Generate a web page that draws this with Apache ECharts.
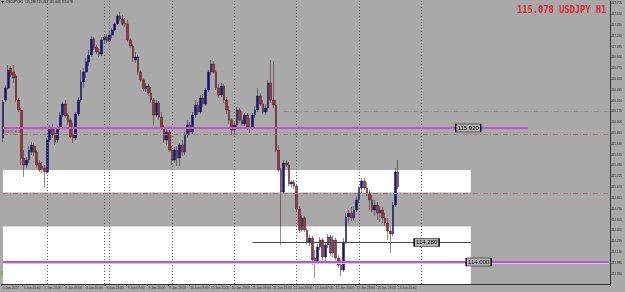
<!DOCTYPE html>
<html><head><meta charset="utf-8">
<script src="https://cdn.jsdelivr.net/npm/echarts@6/dist/echarts.min.js"></script>
<style>html,body{margin:0;padding:0;background:#a9a9a9}#c{width:625px;height:292px}</style>
</head><body><div id="c"></div>
<script>
// time-axis tick labels (one every 8 H1 bars)
const timeTicks = ["5 Jan 2017","5 Jan 15:00","5 Jan 23:00","6 Jan 07:00","6 Jan 15:00","6 Jan 23:00","9 Jan 07:00","9 Jan 15:00","9 Jan 23:00","10 Jan 07:00","10 Jan 15:00","10 Jan 23:00","11 Jan 07:00","11 Jan 15:00","11 Jan 23:00","12 Jan 07:00","12 Jan 15:00","12 Jan 23:00","13 Jan 07:00","13 Jan 15:00"];
// price-axis tick labels
const priceTicks = [117.705,117.550,117.395,117.240,117.085,116.930,116.775,116.620,116.465,116.310,116.155,116.000,115.845,115.690,115.535,115.380,115.225,115.070,114.915,114.760,114.605,114.450,114.295,114.140,113.985,113.830];
// USDJPY H1 candles
const opens = [115.776,116.321,116.493,116.779,116.722,116.665,116.321,116.178,115.489,115.389,115.461,115.575,115.662,115.575,115.418,115.375,115.346,115.289,115.748,115.920,115.848,115.748,115.920,116.106,116.264,116.106,116.034,115.820,115.776,116.120,116.321,116.579,116.722,116.865,116.966,117.195,117.080,117.009,116.980,117.181,117.224,117.166,117.252,117.324,117.410,117.525,117.482,117.424,117.410,117.181,117.095,116.894,116.937,116.722,116.608,116.479,116.522,116.421,116.321,116.106,116.278,116.077,115.920,115.748,115.862,115.604,115.461,115.604,115.489,115.676,115.575,115.820,115.963,115.862,116.106,116.249,116.149,116.350,116.264,116.464,116.722,116.837,116.722,116.493,116.393,116.522,116.321,116.178,116.034,115.891,115.963,116.178,116.034,115.977,116.106,115.934,115.920,116.106,116.178,116.378,116.264,116.149,116.206,116.565,116.321,116.249,115.604,115.318,115.002,115.418,115.389,115.117,115.146,115.088,114.759,114.458,114.630,114.458,114.286,114.343,114.057,114.000,114.214,114.315,114.071,114.243,114.358,114.128,114.315,114.057,113.956,113.885,114.286,114.644,114.702,114.630,114.745,114.888,115.060,115.161,115.060,114.974,114.888,114.745,114.816,114.702,114.745,114.630,114.558,114.443,114.401,114.816,115.289];
const closes = [116.292,116.493,116.751,116.679,116.637,116.321,116.178,115.489,115.389,115.461,115.604,115.676,115.575,115.389,115.318,115.332,115.289,115.748,115.920,115.820,115.719,115.920,116.106,116.264,116.092,116.005,115.791,115.776,116.120,116.321,116.579,116.722,116.865,116.966,117.195,117.066,117.009,116.980,117.181,117.224,117.166,117.252,117.324,117.410,117.525,117.482,117.410,117.410,117.181,117.095,116.923,116.937,116.722,116.608,116.479,116.522,116.421,116.321,116.106,116.278,116.077,115.920,115.748,115.862,115.604,115.461,115.604,115.489,115.676,115.575,115.820,115.963,115.862,116.106,116.249,116.149,116.350,116.264,116.464,116.722,116.837,116.722,116.493,116.393,116.522,116.321,116.178,116.034,115.891,115.963,116.178,116.034,115.977,116.106,115.934,115.920,116.106,116.178,116.378,116.264,116.149,116.206,116.565,116.321,116.249,115.604,115.318,115.002,115.418,115.389,115.117,115.146,115.088,114.759,114.458,114.630,114.458,114.286,114.343,114.028,114.000,114.214,114.315,114.071,114.243,114.358,114.128,114.315,114.057,113.956,113.885,114.286,114.644,114.702,114.630,114.745,114.888,115.060,115.161,115.060,114.974,114.888,114.745,114.816,114.702,114.745,114.630,114.558,114.443,114.401,114.816,115.289,115.078];
const highs = [116.321,116.536,116.822,116.808,116.822,116.694,116.350,116.206,115.604,115.504,115.662,115.719,115.705,115.604,115.461,115.432,115.389,115.776,115.963,115.977,115.920,115.948,116.149,116.292,116.321,116.135,116.063,115.991,116.149,116.364,116.751,116.779,116.923,117.037,117.238,117.224,117.109,117.066,117.224,117.252,117.267,117.295,117.353,117.439,117.553,117.582,117.539,117.496,117.467,117.209,117.124,117.009,116.966,116.751,116.637,116.565,116.551,116.508,116.350,116.321,116.307,116.149,115.963,115.920,115.891,115.662,115.647,115.662,115.705,115.748,115.862,116.034,116.005,116.149,116.321,116.292,116.393,116.407,116.493,116.751,116.894,116.880,116.751,116.551,116.565,116.551,116.364,116.235,116.063,116.005,116.221,116.206,116.163,116.135,116.135,116.063,116.135,116.235,116.493,116.421,116.321,116.264,116.608,116.894,116.880,116.321,115.676,115.346,115.461,115.461,115.432,115.175,115.175,115.117,114.802,114.673,114.659,114.487,114.386,114.372,114.171,114.257,114.358,114.343,114.286,114.401,114.386,114.372,114.343,114.100,114.042,114.343,114.702,114.745,114.788,114.802,114.945,115.088,115.203,115.203,115.146,115.031,114.959,114.888,114.859,114.802,114.788,114.702,114.630,114.515,114.859,115.346,115.461];
const lows = [115.719,116.292,116.464,116.651,116.565,116.292,116.149,115.389,115.218,115.346,115.418,115.532,115.518,115.346,115.289,115.275,115.074,115.261,115.719,115.776,115.676,115.705,115.891,116.077,116.063,115.963,115.776,115.705,115.748,116.092,116.292,116.493,116.637,116.808,116.937,117.037,116.980,116.937,116.951,117.124,117.138,117.152,117.209,117.310,117.396,117.453,117.381,117.367,117.152,117.066,116.865,116.851,116.679,116.579,116.450,116.436,116.378,116.278,115.963,116.077,116.034,115.891,115.705,115.676,115.575,115.389,115.418,115.375,115.375,115.518,115.532,115.776,115.820,115.834,116.063,116.106,116.120,116.221,116.235,116.436,116.679,116.694,116.464,116.350,116.364,116.278,116.120,115.977,115.820,115.848,115.934,115.991,115.948,115.948,115.891,115.848,115.891,116.063,116.149,116.235,116.120,116.106,116.149,116.278,116.206,115.575,115.289,114.243,114.974,115.361,115.088,115.074,115.045,114.730,114.415,114.429,114.429,114.257,114.229,113.956,113.770,113.971,114.171,114.028,114.000,114.200,114.085,114.071,114.028,113.914,113.799,113.856,114.257,114.558,114.587,114.587,114.716,114.845,114.988,115.031,114.945,114.745,114.702,114.659,114.601,114.573,114.558,114.515,114.315,114.128,114.372,114.788,115.045];
const levelRes = 115.920, levelSup = 114.000, levelMid = 114.280;

const nCat = 234;
const cats = [];
for (let i=0;i<nCat;i++) cats.push(i%8===0 && i/8<timeTicks.length ? timeTicks[i/8] : '');
const candles = opens.map((o,i)=>[o,closes[i],lows[i],highs[i]]);
const last = candles.length-1;
const endCat = nCat-1;

const sep = {color:'#5e5e5e',type:[1,2],width:1};
const chart = echarts.init(document.getElementById('c'),null,{renderer:'canvas'});
chart.setOption({
  backgroundColor:'#a9a9a9',
  animation:false,
  grid:{left:0,right:13,top:1,bottom:8,show:false},
  xAxis:{type:'category',data:cats,boundaryGap:true,
    axisLine:{lineStyle:{color:'#333',width:1}},
    axisTick:{show:true,length:2,interval:(i)=>i%8===0 && i<=152,lineStyle:{color:'#333'}},
    axisLabel:{interval:0,fontSize:3.2,color:'#262626',margin:3,align:'left',fontFamily:'Liberation Sans'},
    splitLine:{show:false}},
  yAxis:{type:'value',position:'right',min:113.684,max:117.740,
    axisLine:{show:true,lineStyle:{color:'#333'}},
    axisTick:{show:true,length:1.5,customValues:priceTicks,lineStyle:{color:'#333'}},
    axisLabel:{customValues:priceTicks,fontSize:3,color:'#262626',margin:1.5,formatter:v=>v.toFixed(3),fontFamily:'Liberation Sans'},
    splitLine:{show:false}},
  graphic:[
    {type:'polygon',shape:{points:[[1,1],[4,1],[2.5,3.5]]},style:{fill:'#111'}},
    {type:'text',left:6,top:0.5,style:{text:'USDJPY,H1  115.289 115.461 115.045 115.078',fontSize:3.2,fill:'#111',fontFamily:'Liberation Sans'}},
    {type:'text',x:517,y:5,scaleX:0.83,style:{text:'115.078 USDJPY H1',fontSize:10.5,fill:'#e3232e',fontFamily:'DejaVu Sans Mono',fontWeight:'bold'}},
    {type:'text',left:1,top:271,style:{text:'RmUp67',fontSize:5.2,fill:'#19d219',fontFamily:'Liberation Sans',fontWeight:'bold'}},
    {type:'text',left:28,top:271,style:{text:'RmDn114',fontSize:5.2,fill:'#19d219',fontFamily:'Liberation Sans',fontWeight:'bold'}},
    {type:'text',left:57,top:271,style:{text:'Cr155',fontSize:5.2,fill:'#e6e600',fontFamily:'Liberation Sans',fontWeight:'bold'}},
    {type:'text',left:1,top:280,style:{text:'Trigger 115.62 Entry 114.93 Stop 115.87 Target 113.86',fontSize:3.4,fill:'#e6e600',fontFamily:'Liberation Sans'}},
    {type:'text',left:3,top:131,style:{text:'PREVDH14',fontSize:3.4,fill:'#555',fontFamily:'Liberation Sans'}},
    {type:'text',left:3,top:190,style:{text:'PREVDL14',fontSize:3.4,fill:'#555',fontFamily:'Liberation Sans'}},
    {type:'text',left:3,top:259,style:{text:'PREVDLa',fontSize:3.4,fill:'#555',fontFamily:'Liberation Sans'}},
    {type:'ellipse',shape:{cx:28.5,cy:261,rx:3.8,ry:2.9},style:{fill:'#000'}}
  ],
  series:[
    {type:'line',data:[],z:1,silent:true,
     markArea:{silent:true,itemStyle:{color:'#ffffff'},data:[
       [{xAxis:0,yAxis:115.318},{xAxis:180,yAxis:114.996}],
       [{xAxis:0,yAxis:114.508},{xAxis:180,yAxis:113.684}]
     ]}},
    {type:'line',data:[],z:3,silent:true,
     markLine:{silent:true,symbol:'none',label:{show:false},data:[
       {xAxis:17,lineStyle:sep},{xAxis:39,lineStyle:sep},{xAxis:41,lineStyle:sep},{xAxis:65,lineStyle:sep},
       {xAxis:89,lineStyle:sep},{xAxis:113,lineStyle:sep},{xAxis:137,lineStyle:sep},{xAxis:161,lineStyle:sep},
       [{coord:[0,115.834],lineStyle:{color:'#a07474',type:[5,2,1,2],width:1}},{coord:[endCat,115.834]}],
       [{coord:[0,114.98],lineStyle:{color:'#a07474',type:[5,2,1,2],width:1}},{coord:[endCat,114.98]}],
       [{coord:[108,116.16],lineStyle:{color:'#8c8c8c',type:[5,2,1,2],width:1}},{coord:[endCat,116.16]}],
       [{coord:[0,levelRes],lineStyle:{color:'#cc4fcc',width:2,type:'solid'}},{coord:[202,levelRes]}],
       [{coord:[0,113.978],lineStyle:{color:'#b0d8f0',width:1,type:'solid'}},{coord:[endCat,113.978]}],
       [{coord:[0,levelSup],lineStyle:{color:'#cc4fcc',width:2,type:'solid'}},{coord:[endCat,levelSup]}],
       [{coord:[96,levelMid],lineStyle:{color:'#4a4a4a',width:1,type:'solid'}},{coord:[180,levelMid]}]
     ]},
     markPoint:{silent:true,symbol:'rect',symbolSize:[25,8],itemStyle:{color:'#b4b4b4',borderColor:'#000',borderWidth:0.8},
       label:{show:true,fontSize:6,color:'#000',fontFamily:'Liberation Sans',formatter:p=>p.value.toFixed(3)},
       data:[
        {coord:[179,levelRes],value:levelRes},
        {coord:[163,levelMid],value:levelMid},
        {coord:[183,levelSup],value:levelSup}
     ]}},
    {type:'candlestick',z:4,data:candles,barWidth:2.2,
     itemStyle:{color:'#10108c',color0:'#a8323e',borderColor:'#141440',borderColor0:'#3c1616',borderWidth:0.5},
     markLine:{silent:true,symbol:'none',data:[{yAxis:closes[last]}],
       lineStyle:{width:0,opacity:0},
       label:{position:'end',distance:1,formatter:p=>p.value.toFixed(3),backgroundColor:'#000',color:'#fff',fontSize:3,padding:[1,1],fontFamily:'Liberation Sans'}}}
  ]
});
</script></body></html>
